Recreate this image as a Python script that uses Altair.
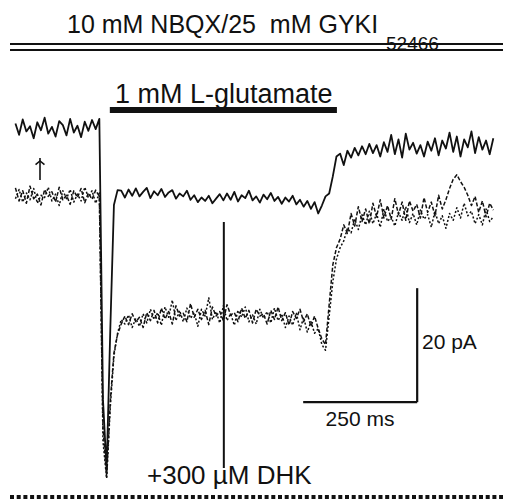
import altair as alt
import pandas as pd

# ---- recording time base (ms) ----
T0 = -192
DT = 8

# ---- current traces (pA), one sample every DT ms ----
control = [
    0.8, -1.2, 1.5, -0.6, 0.3, -1.8, 1.0, -0.4, 1.8, -1.0, 0.2, -1.5, 1.2, 0.5, -1.3, 1.6, -0.8, 0.4, -1.6, 1.1, -0.5, 1.4, -0.2,
    1.6,
    -47.7, -60.0, -35.4, -13.5, -10.9,
    -11.0, -12.2, -10.8, -11.9, -10.6, -12.0, -11.2, -10.5, -12.3, -11.1, -11.8, -10.7, -12.1, -11.3, -10.9, -12.4, -11.5, -12.0,
    -11.0, -12.6, -11.8, -13.0, -12.2, -12.8, -11.9, -13.2, -12.4, -11.6, -12.7,
    -11.5, -12.6, -11.2, -12.9, -11.8, -12.3, -11.0, -12.7, -12.0, -13.1, -11.7, -12.5, -11.4, -12.8, -12.1, -13.3, -12.2, -12.9,
    -11.9, -13.4, -12.6, -13.8, -12.8, -14.2, -13.0, -15.0, -13.6,
    -12.0, -11.5, -8.5, -5.0, -4.5, -6.5,
    -4.0, -5.2, -3.5, -4.8, -3.2, -4.6, -2.8, -4.4, -3.0, -5.0, -2.5, -4.2, -1.2, -4.6, -2.0, -5.2, -1.0, -3.8, -2.6, -4.5,
    -3.0, -5.0, -2.4, -4.0, -1.8, -4.8, -2.2, -3.6, -0.8, -4.2, -1.5, -5.0, -2.0, -3.4, -0.6, -4.4, -1.6, -3.8, -2.2, -4.6, -1.8,
]
dhk_a = [
    -10.5, -12.8, -11.0, -13.2, -10.2, -12.4, -11.6, -13.5, -10.8, -12.0, -11.2, -13.0, -10.4, -12.6, -11.8, -13.4, -11.0, -12.2,
    -10.6, -13.1, -11.4, -12.5, -10.9, -12.0,
    -52.6, -61.2, -48.0, -39.5, -36.2, -34.4,
    -33.0, -34.5, -32.6, -34.0, -33.2, -35.0, -32.4, -33.8, -32.0, -34.2, -31.6, -33.5, -32.2, -34.4, -31.2, -33.0, -32.5, -34.0,
    -30.8, -33.2, -31.8, -33.6, -32.0, -34.5, -31.4, -33.0, -32.2, -33.8, -31.0, -32.8, -32.4, -34.0, -31.6, -33.4, -32.0, -34.2,
    -31.8, -33.0, -32.6, -34.4, -32.0, -33.6, -31.4, -33.8, -32.4, -34.6, -32.2, -33.4, -31.8, -34.0, -32.6, -34.8, -33.0, -35.2,
    -37.0, -38.0, -31.0, -24.0, -21.0, -19.5, -17.0, -18.5,
    -15.0, -17.2, -13.8, -16.4, -14.2, -16.8, -13.2, -15.6, -12.6, -15.8, -13.6, -16.0, -12.4, -15.2, -13.0, -16.2, -12.8, -14.6,
    -13.4, -15.8, -12.2, -14.8, -13.0, -15.4, -11.8, -14.2, -12.6, -10.6, -9.0, -8.2, -9.4, -10.4, -11.8, -13.6, -12.0, -14.8,
    -12.8, -15.6, -13.2, -14.4,
]
dhk_b = [
    -12.4, -10.8, -13.0, -11.4, -12.6, -10.6, -13.2, -11.8, -12.2, -10.4, -12.8, -11.6, -13.6, -11.0, -12.4, -10.8, -13.0, -11.6,
    -12.8, -10.4, -12.2, -11.0, -13.2, -11.4,
    -55.0, -61.5, -49.0, -40.0, -36.0, -33.6,
    -34.4, -32.8, -35.0, -33.4, -34.8, -32.6, -34.2, -31.8, -33.6, -32.4, -34.6, -31.4, -33.2, -30.2, -33.8, -32.0, -34.0, -31.6,
    -33.4, -32.4, -34.8, -31.8, -33.0, -29.8, -33.6, -32.2, -34.2, -31.2, -33.8, -32.6, -34.6, -32.0, -33.2, -31.4, -34.0, -32.8,
    -34.4, -31.8, -33.4, -32.2, -34.2, -31.6, -33.8, -32.6, -35.0, -33.0, -34.6, -32.4, -35.4, -33.2, -35.8, -34.0, -36.0, -35.2,
    -38.0, -39.0, -33.0, -27.0, -23.0, -21.0, -19.8, -17.6,
    -18.4, -16.0, -17.8, -15.2, -17.0, -14.6, -16.8, -15.0, -17.4, -14.2, -16.4, -15.6, -17.2, -14.8, -16.2, -13.8, -16.6, -15.0,
    -17.0, -14.4, -16.0, -15.2, -17.4, -14.6, -16.8, -15.4, -17.6, -15.0, -16.2, -14.0, -15.8, -13.2, -15.4, -14.6, -16.8, -15.2,
    -17.0, -14.2, -16.4, -15.6,
]

# ---- annotation values ----
GLU_ON, GLU_OFF = 15, 513          # ms, 1 mM L-glutamate application
DHK_T = 265                        # ms, DHK marker
SB_T, SB_MS = 439, 250             # time scale bar
SB_I, SB_PA = -48.1, 20            # current scale bar

title_main = "10 mM NBQX/25\u00a0 mM GYKI"
title_sub = "52466"
glu_label = "1 mM L-glutamate"
dhk_label = "+300 µM DHK"
pa_label = "20 pA"
ms_label = "250 ms"

W, H = 495, 493
FONT = "Liberation Sans"
INK = "#111111"

xs = alt.Scale(domain=[-208.3, 877.2], nice=False, zero=False)
ys = alt.Scale(domain=[-65.44, 21.05], nice=False, zero=False)


def trace_df(vals):
    return pd.DataFrame({"t": [T0 + DT * i for i in range(len(vals))], "I": vals})


def trace(vals, width, dash=None):
    kw = dict(color=INK, strokeWidth=width, strokeJoin="round")
    if dash:
        kw["strokeDash"] = dash
    return alt.Chart(trace_df(vals)).mark_line(**kw).encode(
        x=alt.X("t:Q", scale=xs, axis=None),
        y=alt.Y("I:Q", scale=ys, axis=None),
    )


def one():
    return pd.DataFrame({"a": [0]})


def text(label, x, y, size, align="left"):
    return alt.Chart(pd.DataFrame({"label": [label]})).mark_text(
        font=FONT, fontSize=size, color=INK, align=align, baseline="alphabetic"
    ).encode(x=alt.value(x), y=alt.value(y), text="label:N")


def hline(x1, x2, y, width, dash=None):
    kw = dict(color=INK, strokeWidth=width)
    if dash:
        kw["strokeDash"] = dash
    return alt.Chart(one()).mark_rule(**kw).encode(
        x=alt.value(x1), x2=alt.value(x2), y=alt.value(y)
    )


layers = [
    trace(dhk_b, 1.5, [2, 2]),
    trace(dhk_a, 1.5, [4, 2]),
    trace(control, 1.8),
    # glutamate bar
    alt.Chart(pd.DataFrame({"on": [GLU_ON], "off": [GLU_OFF]})).mark_rule(
        color=INK, strokeWidth=6
    ).encode(x=alt.X("on:Q", scale=xs, axis=None), x2="off:Q", y=alt.value(102)),
    # DHK marker
    alt.Chart(pd.DataFrame({"t": [DHK_T]})).mark_rule(color=INK, strokeWidth=2).encode(
        x=alt.X("t:Q", scale=xs, axis=None), y=alt.value(214), y2=alt.value(460)
    ),
    # scale bars
    alt.Chart(pd.DataFrame({"t0": [SB_T], "t1": [SB_T + SB_MS], "i": [SB_I]})).mark_rule(
        color=INK, strokeWidth=2.2
    ).encode(x=alt.X("t0:Q", scale=xs, axis=None), x2="t1:Q", y=alt.Y("i:Q", scale=ys, axis=None)),
    alt.Chart(pd.DataFrame({"t": [SB_T + SB_MS], "i0": [SB_I], "i1": [SB_I + SB_PA]})).mark_rule(
        color=INK, strokeWidth=2.2
    ).encode(x=alt.X("t:Q", scale=xs, axis=None), y=alt.Y("i0:Q", scale=ys, axis=None), y2="i1:Q"),
    # arrow
    alt.Chart(one()).mark_rule(color=INK, strokeWidth=1.6).encode(
        x=alt.value(32), y=alt.value(150), y2=alt.value(172)
    ),
    alt.Chart(one()).mark_point(
        shape="M-1,0.8L0,0L1,0.8", filled=False, color=INK, strokeWidth=1.6, size=80, opacity=1
    ).encode(x=alt.value(32), y=alt.value(153)),
    # rules around title and bottom
    hline(2, 495, 36, 2.2),
    hline(2, 495, 42, 2.2),
    hline(2, 495, 489, 4, [4, 2.7]),
    # texts
    text(title_main, 59, 25, 25),
    text(title_sub, 378, 42, 19),
    text(glu_label, 107, 95, 27),
    text(dhk_label, 139, 476, 26),
    text(pa_label, 414, 341, 21),
    text(ms_label, 352, 418, 21, "center"),
]

chart = alt.layer(*layers).properties(
    width=W, height=H, padding=0, autosize=alt.AutoSizeParams(type="none")
).configure_view(stroke=None)

chart.save("out.html", embed_options={"renderer": "svg", "actions": False})
